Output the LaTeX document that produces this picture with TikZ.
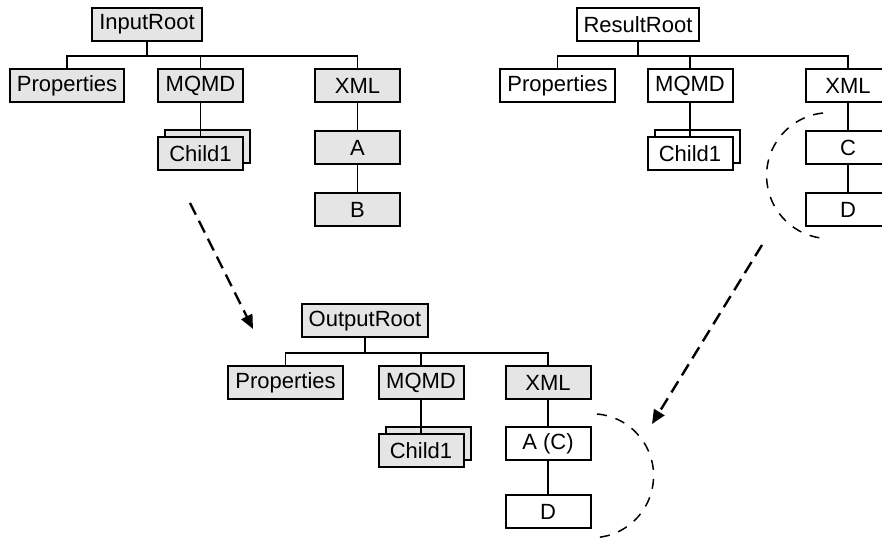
\documentclass[tikz,border=0pt]{standalone}
\usepackage{fontspec}
\setmainfont{Liberation Sans}
\usetikzlibrary{arrows.meta,shadows}
\definecolor{lightgrey}{rgb}{0.9,0.9,0.9}

\begin{document}
\begin{tikzpicture}[x=0.5pt, y=-0.5pt,
	box/.style={draw, line width=1pt, inner xsep=3.5pt, inner ysep=0pt, minimum width=42.5pt, minimum height=16.5pt, font=\fontsize{11}{12}\selectfont},
	grey box/.style={box, fill=lightgrey},
	white box/.style={box, fill=white},
	stacked/.style={copy shadow={shadow xshift=3.5pt, shadow yshift=3.5pt, draw=black, line width=1pt, fill=#1}},
	link/.style={line width=0.85pt},
	flow/.style={line width=1.2pt, dash pattern=on 6.5pt off 3.5pt, -{Triangle[length=7pt,width=6pt]}},
	scope mark/.style={line width=0.75pt, dash pattern=on 5pt off 4.5pt}]
	\useasboundingbox (0,0) rectangle (882,544);
	% input tree
	\node[grey box] (inRoot) at (147,24.5) {InputRoot};
	\node[grey box] (inProp) at (67,86) {Properties};
	\node[grey box] (inMQMD) at (200.5,86) {MQMD};
	\node[grey box] (inXML) at (357.5,86) {XML};
	\node[grey box, stacked=lightgrey] (inChild) at (200.5,154) {Child1};
	\node[grey box] (inA) at (357.5,148) {A};
	\node[grey box] (inB) at (357.5,209.5) {B};
	\foreach \c in {inProp,inMQMD,inXML}{
		\draw[link] (inRoot.south) -- ++(0,14) -| (\c.north);
	}
	\draw[link] (inMQMD.south) -- (inChild.north);
	\draw[link] (inXML.south) -- (inA.north);
	\draw[link] (inA.south) -- (inB.north);
	% result tree
	\node[white box] (resRoot) at (638,24.5) {ResultRoot};
	\node[white box] (resProp) at (557.5,86) {Properties};
	\node[white box] (resMQMD) at (690,86) {MQMD};
	\node[white box] (resXML) at (848,86) {XML};
	\node[white box, stacked=white] (resChild) at (690,154) {Child1};
	\node[white box] (resC) at (848,148) {C};
	\node[white box] (resD) at (848,209.5) {D};
	\foreach \c in {resProp,resMQMD,resXML}{
		\draw[link] (resRoot.south) -- ++(0,14) -| (\c.north);
	}
	\draw[link] (resMQMD.south) -- (resChild.north);
	\draw[link] (resXML.south) -- (resC.north);
	\draw[link] (resC.south) -- (resD.north);
	% output tree
	\node[grey box] (outRoot) at (365,321) {OutputRoot};
	\node[grey box] (outProp) at (285.5,382.5) {Properties};
	\node[grey box] (outMQMD) at (421,382.5) {MQMD};
	\node[grey box] (outXML) at (548,382.5) {XML};
	\node[grey box, stacked=lightgrey] (outChild) at (421,450.5) {Child1};
	\node[white box] (outA) at (548,443.5) {A (C)};
	\node[white box] (outD) at (548,511.5) {D};
	\foreach \c in {outProp,outMQMD,outXML}{
		\draw[link] (outRoot.south) -- ++(0,14.5) -| (\c.north);
	}
	\draw[link] (outMQMD.south) -- (outChild.north);
	\draw[link] (outXML.south) -- (outA.north);
	\draw[link] (outA.south) -- (outD.north);
	% copied parts
	\draw[scope mark] (823,113) arc[start angle=96, end angle=267, radius=31.5pt];
	\draw[scope mark] (597,414) arc[start angle=85, end angle=-85, radius=31pt];
	\coordinate (inFrom) at (190,203);
	\coordinate (inTo) at (253,329);
	\coordinate (resFrom) at (762,245);
	\coordinate (resTo) at (652,424);
	\draw[flow] (inFrom) -- (inTo);
	\draw[flow] (resFrom) -- (resTo);
\end{tikzpicture}
\end{document}
